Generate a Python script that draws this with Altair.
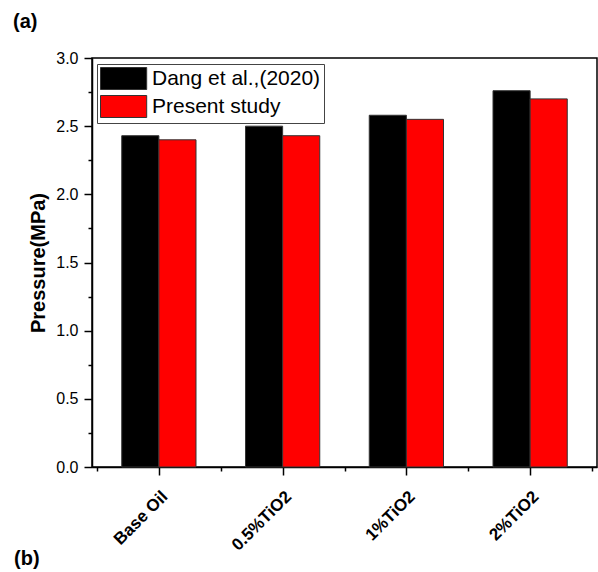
import altair as alt
import pandas as pd

categories = ["Base Oil", "0.5%TiO2", "1%TiO2", "2%TiO2"]
series_names = ["Dang et al.,(2020)", "Present study"]
dang_values = [2.43, 2.50, 2.58, 2.76]
present_values = [2.40, 2.43, 2.55, 2.70]
colors = ["#000000", "#ff0000"]
y_major = [0.0, 0.5, 1.0, 1.5, 2.0, 2.5, 3.0]
y_minor = [0.25, 0.75, 1.25, 1.75, 2.25, 2.75]
x_major = [0, 1, 2, 3]
x_minor = [-0.5, 0.5, 1.5, 2.5, 3.5]
panel_labels = ["(a)", "(b)"]

rows = []
for i, c in enumerate(categories):
    for s, vals in zip(series_names, [dang_values, present_values]):
        rows.append({"cat": c, "idx": i, "series": s, "value": vals[i]})
df = pd.DataFrame(rows)

half = 0.3
FONT = "Liberation Sans"
label_array = "[" + ",".join("'" + c + "'" for c in categories) + "]"

xscale = alt.Scale(domain=[-0.5, 3.5], nice=False, zero=False)
yscale = alt.Scale(domain=[0, 3], nice=False)

base = alt.Chart(df).transform_calculate(
    x0=f"datum.idx + (datum.series == '{series_names[0]}' ? -{half} : 0)",
).transform_calculate(
    x1=f"datum.x0 + {half}"
)

bars = base.mark_bar(stroke="#333333", strokeWidth=1, orient="vertical").encode(
    x=alt.X("x0:Q", scale=xscale, axis=alt.Axis(
        values=x_major, labelExpr=f"{label_array}[datum.value]",
        labelAngle=-45, labelAlign="right", labelBaseline="top",
        labelFontWeight="bold", labelFontSize=17, labelFont=FONT,
        labelOffset=0, labelPadding=13,
        tickSize=8, tickWidth=1.5, title=None, grid=False,
        domainWidth=1.5, orient="bottom")),
    x2="x1:Q",
    y=alt.Y("value:Q", scale=yscale, axis=alt.Axis(
        values=y_major, format=".1f", tickSize=8, tickWidth=1.5,
        labelFontSize=16, labelFont=FONT, labelPadding=6,
        title="Pressure(MPa)", titleFontSize=20, titleFont=FONT,
        titleFontWeight="bold", titlePadding=7, grid=False,
        domainWidth=1.5, orient="left")),
    y2=alt.datum(0),
    fill=alt.Fill("series:N", scale=alt.Scale(domain=series_names, range=colors),
                  legend=alt.Legend(
                      title=None, orient="none", legendX=5, legendY=6,
                      symbolType="M-1,-1H3.2V1H-1Z", symbolSize=484,
                      symbolStrokeColor="#333333", symbolStrokeWidth=1,
                      labelFontSize=21, labelFont=FONT, labelColor="#000000",
                      labelOffset=29, labelLimit=400, padding=3, rowPadding=1,
                      strokeColor="#444444", fillColor="white")),
)

minor = base.mark_point(opacity=0).encode(
    x=alt.X("x0:Q", scale=xscale, axis=alt.Axis(
        values=x_minor, labels=False, tickSize=4, tickWidth=1.5,
        domain=False, title=None, grid=False, orient="bottom")),
    y=alt.Y("value:Q", scale=yscale, axis=alt.Axis(
        values=y_minor, labels=False, tickSize=4, tickWidth=1.5,
        domain=False, title=None, grid=False, orient="left")),
)

lab_df = pd.DataFrame({"t": panel_labels})
labels_a = alt.Chart(lab_df).transform_filter(f"datum.t == '{panel_labels[0]}'").mark_text(
    fontSize=20, fontWeight="bold", font=FONT, align="left", baseline="alphabetic"
).encode(text="t:N", x=alt.value(-79), y=alt.value(-30))
labels_b = alt.Chart(lab_df).transform_filter(f"datum.t == '{panel_labels[1]}'").mark_text(
    fontSize=20, fontWeight="bold", font=FONT, align="left", baseline="alphabetic"
).encode(text="t:N", x=alt.value(-78), y=alt.value(507))

chart = alt.layer(bars, minor, labels_a, labels_b).resolve_axis(
    x="independent", y="independent"
).properties(
    width=505, height=409,
    autosize=alt.AutoSizeParams(type="none"),
    padding={"left": 92, "top": 58, "right": 1, "bottom": 105},
    background="white",
).configure_view(
    stroke="black", strokeWidth=1.5
).configure_axis(
    tickColor="black", domainColor="black", labelColor="black", titleColor="black"
)

chart.save("out.html", embed_options={"renderer": "svg", "actions": False})
